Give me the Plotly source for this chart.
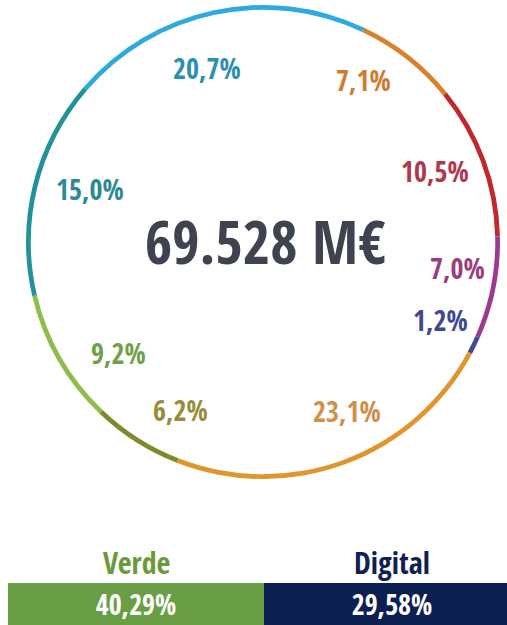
import plotly.graph_objects as go

# ---- data ----
segment_names = ["Naranja A", "Rojo", "Morado", "Índigo", "Naranja B", "Oliva", "Verde claro", "Turquesa", "Azul"]
segment_values = [7.1, 10.5, 7.0, 1.2, 23.1, 6.2, 9.2, 15.0, 20.7]
segment_labels = ["7,1%", "10,5%", "7,0%", "1,2%", "23,1%", "6,2%", "9,2%", "15,0%", "20,7%"]
total_label = "69.528 M€"
split_names = ["Verde", "Digital"]
split_values = ["40,29%", "29,58%"]

# ---- styles ----
ring_colors = ["#D6822E", "#C1272D", "#9C3B8E", "#404A9A", "#DF962F", "#808A2B", "#8DBE4B", "#21929A", "#2EAADF"]
label_colors = ["#D27B30", "#B03848", "#9B3D80", "#404896", "#D08F4A", "#9A8B3A", "#6FA04A", "#2D8A94", "#2B8FB0"]
# label centre positions in pixels (x from left, y from top)
label_px = [(363, 80), (435, 171), (457, 268), (440, 320), (347, 411), (180, 410), (118, 353), (90, 189), (207, 68)]
split_bar_colors = ["#6A9E44", "#0B1F50"]
split_title_colors = ["#6A9A3A", "#0F2150"]

W, H = 507, 625
FONT = "Open Sans Condensed, Liberation Sans Narrow, DejaVu Sans Condensed, Open Sans, sans-serif"

cx, cy, R = 263, 242, 237

fig = go.Figure()
fig.add_trace(go.Pie(
    labels=segment_names, values=segment_values, sort=False,
    direction="clockwise", rotation=25.3, hole=0.98,
    marker=dict(colors=ring_colors, line=dict(width=0)),
    textinfo="none", hoverinfo="skip", showlegend=False,
    domain=dict(x=[(cx - R) / W, (cx + R) / W], y=[(H - cy - R) / H, (H - cy + R) / H]),
))

fig.add_trace(go.Bar(
    x=[0, 1], y=[1, 1], text=split_values, textposition="inside",
    insidetextanchor="middle", constraintext="none",
    textfont=dict(family=FONT, size=28, color="white", weight="bold"),
    marker=dict(color=split_bar_colors, line=dict(width=0)),
    width=1, xaxis="x2", yaxis="y2", hoverinfo="skip", showlegend=False,
))

annotations = []
for (px, py), txt, col in zip(label_px, segment_labels, label_colors):
    annotations.append(dict(x=px / W, y=1 - py / H, xref="paper", yref="paper",
                            xanchor="center", yanchor="middle",
                            text=txt, showarrow=False,
                            font=dict(family=FONT, size=28, color=col, weight="bold")))
annotations.append(dict(x=(cx + 2) / W, y=1 - 241 / H, xref="paper", yref="paper",
                        xanchor="center", yanchor="middle",
                        text=total_label, showarrow=False,
                        font=dict(family=FONT, size=59, color="#3F4350", weight="bold")))
for i, (name, col) in enumerate(zip(split_names, split_title_colors)):
    annotations.append(dict(x=i, y=1 - 562 / H, xref="x2", yref="paper",
                            xanchor="center", yanchor="middle",
                            text=name, showarrow=False,
                            font=dict(family=FONT, size=30, color=col, weight="bold")))

fig.update_layout(
    width=W, height=H, margin=dict(l=0, r=0, t=0, b=0),
    paper_bgcolor="white", plot_bgcolor="white",
    bargap=0,
    xaxis2=dict(domain=[8 / W, 1], range=[-0.5, 1.449], visible=False, fixedrange=True),
    yaxis2=dict(domain=[0, (H - 583) / H], range=[0, 1], visible=False, fixedrange=True),
    annotations=annotations,
)

fig.write_html("out.html", config={"displayModeBar": False},
               post_script="document.body.style.margin='0';document.body.style.overflow='hidden';")
